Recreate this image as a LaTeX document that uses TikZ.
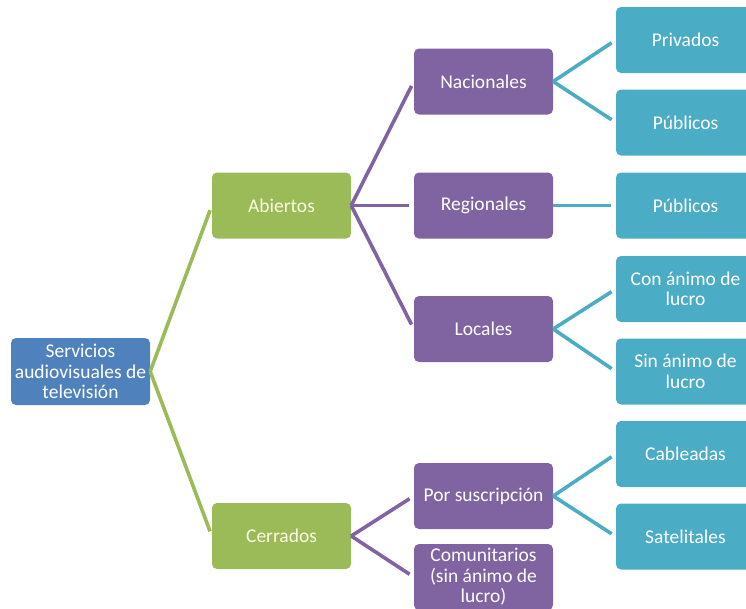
\documentclass[tikz,border=0pt]{standalone}
\usepackage{fontspec}
\setmainfont{Carlito}
\definecolor{rootblue}{RGB}{79,129,189}
\definecolor{levgreen}{RGB}{155,187,89}
\definecolor{levpurple}{RGB}{128,100,162}
\definecolor{levteal}{RGB}{75,172,198}
\definecolor{greentext}{RGB}{250,252,228}

\begin{document}
\begin{tikzpicture}[x = 1pt, y = -1pt,
  box/.style = {rounded corners = 5pt, minimum width = 139pt, minimum height = 66pt,
    align = center, text = white, inner sep = 1pt,
    font = \fontsize{19.5}{20.5}\selectfont},
  link/.style = {line width = 3.6pt, shorten >= 5pt}]
  \useasboundingbox (0,0) rectangle (746,608);

  % first column
  \node[box, fill = rootblue, minimum height = 67pt] (serv) at (80.5,371.5) {Servicios\\audiovisuales de\\televisión};

  % second column
  \node[box, fill = levgreen, text = greentext] (abiertos) at (281.5,205.5) {Abiertos};
  \node[box, fill = levgreen, text = greentext] (cerrados) at (281.5,536) {Cerrados};

  % third column
  \node[box, fill = levpurple] (nacionales) at (483.5,81.5) {Nacionales};
  \node[box, fill = levpurple] (regionales) at (483.5,205.5) {Regionales};
  \node[box, fill = levpurple] (locales) at (483.5,329) {Locales};
  \node[box, fill = levpurple] (suscripcion) at (483.5,496) {Por suscripción};
  \node[box, fill = levpurple] (comunitarios) at (483.5,577) {Comunitarios\\(sin ánimo de\\lucro)};

  % fourth column
  \node[box, fill = levteal] (privados) at (685.5,40) {Privados};
  \node[box, fill = levteal] (publicosN) at (685.5,122.5) {Públicos};
  \node[box, fill = levteal] (publicosR) at (685.5,205.5) {Públicos};
  \node[box, fill = levteal] (conlucro) at (685.5,289) {Con ánimo de\\lucro};
  \node[box, fill = levteal] (sinlucro) at (685.5,371.5) {Sin ánimo de\\lucro};
  \node[box, fill = levteal] (cableadas) at (685.5,454) {Cableadas};
  \node[box, fill = levteal] (satelitales) at (685.5,536.5) {Satelitales};

  \draw[link, levgreen] (serv.east) -- (abiertos.west);
  \draw[link, levgreen] (serv.east) -- (cerrados.west);

  \draw[link, levpurple] (abiertos.east) -- (nacionales.west);
  \draw[link, levpurple] (abiertos.east) -- (regionales.west);
  \draw[link, levpurple] (abiertos.east) -- (locales.west);
  \draw[link, levpurple] (cerrados.east) -- (suscripcion.west);
  \draw[link, levpurple] (cerrados.east) -- (comunitarios.west);

  \draw[link, levteal] (nacionales.east) -- (privados.west);
  \draw[link, levteal] (nacionales.east) -- (publicosN.west);
  \draw[link, levteal] (regionales.east) -- (publicosR.west);
  \draw[link, levteal] (locales.east) -- (conlucro.west);
  \draw[link, levteal] (locales.east) -- (sinlucro.west);
  \draw[link, levteal] (suscripcion.east) -- (cableadas.west);
  \draw[link, levteal] (suscripcion.east) -- (satelitales.west);
\end{tikzpicture}
\end{document}
